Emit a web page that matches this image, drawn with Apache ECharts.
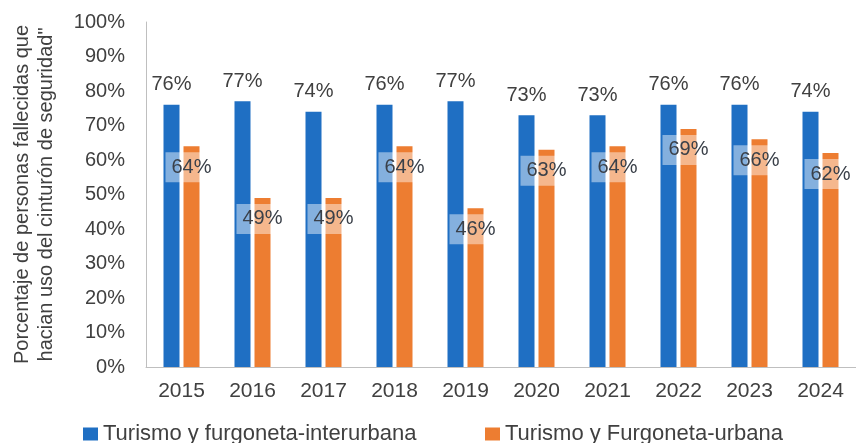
<!DOCTYPE html>
<html><head><meta charset="utf-8">
<script src="https://cdn.jsdelivr.net/npm/echarts@6/dist/echarts.min.js"></script>
<style>html,body{margin:0;padding:0;background:#fff}#c{width:856px;height:443px}</style>
</head><body><div id="c"></div>
<script>
const categories = ['2015','2016','2017','2018','2019','2020','2021','2022','2023','2024'];
const interurbana = [76,77,74,76,77,73,73,76,76,74];
const urbana = [64,49,49,64,46,63,64,69,66,62];
const seriesNames = ['Turismo y furgoneta-interurbana','Turismo y Furgoneta-urbana'];
const yTicks = {min:0, max:100, interval:10};
const yTitle = 'Porcentaje de personas fallecidas que\nhacian uso del cinturón de seguridad"';

const font = '"Liberation Sans", Arial, sans-serif';
const legendText = {fontSize:22, color:'#404040', fontFamily:font};
const chart = echarts.init(document.getElementById('c'));
chart.setOption({
  animation:false,
  textStyle:{fontFamily:font},
  grid:{left:146, right:-11, top:22, bottom:76},
  legend:[
    {top:423, left:83, padding:0, itemWidth:15, itemHeight:13, icon:'rect', textStyle:legendText, data:[seriesNames[0]]},
    {top:423, left:485, padding:0, itemWidth:15, itemHeight:13, icon:'rect', textStyle:legendText, data:[seriesNames[1]]}
  ],
  xAxis:{
    type:'category', data:categories,
    axisLine:{lineStyle:{color:'#bfbfbf', width:1}},
    axisTick:{show:false},
    axisLabel:{fontSize:21, color:'#404040', margin:14}
  },
  yAxis:{
    type:'value', min:yTicks.min, max:yTicks.max, interval:yTicks.interval,
    name:yTitle, nameLocation:'middle', nameGap:88, nameRotate:90,
    nameTextStyle:{fontSize:20, color:'#404040', lineHeight:24, fontFamily:font},
    axisLine:{show:true, lineStyle:{color:'#bfbfbf'}},
    axisTick:{show:false},
    splitLine:{show:false},
    axisLabel:{fontSize:20, color:'#404040', margin:21, formatter:'{value}%'}
  },
  series:[
    {name:seriesNames[0], type:'bar', data:interurbana, barWidth:16, barGap:'25%',
     itemStyle:{color:'#1F6FC3'},
     label:{show:true, position:'top', distance:10, formatter:'{c}%', fontSize:20, color:'#404040'}},
    {name:seriesNames[1], type:'bar', data:urbana, barWidth:16,
     itemStyle:{color:'#ED7D31'},
     z:3,
     label:{show:true, position:'insideTop', distance:6, formatter:'{c}%', fontSize:20, color:'#3a4049',
       backgroundColor:'rgba(255,255,255,0.45)', padding:[5,6]}}
  ]
});
</script></body></html>
